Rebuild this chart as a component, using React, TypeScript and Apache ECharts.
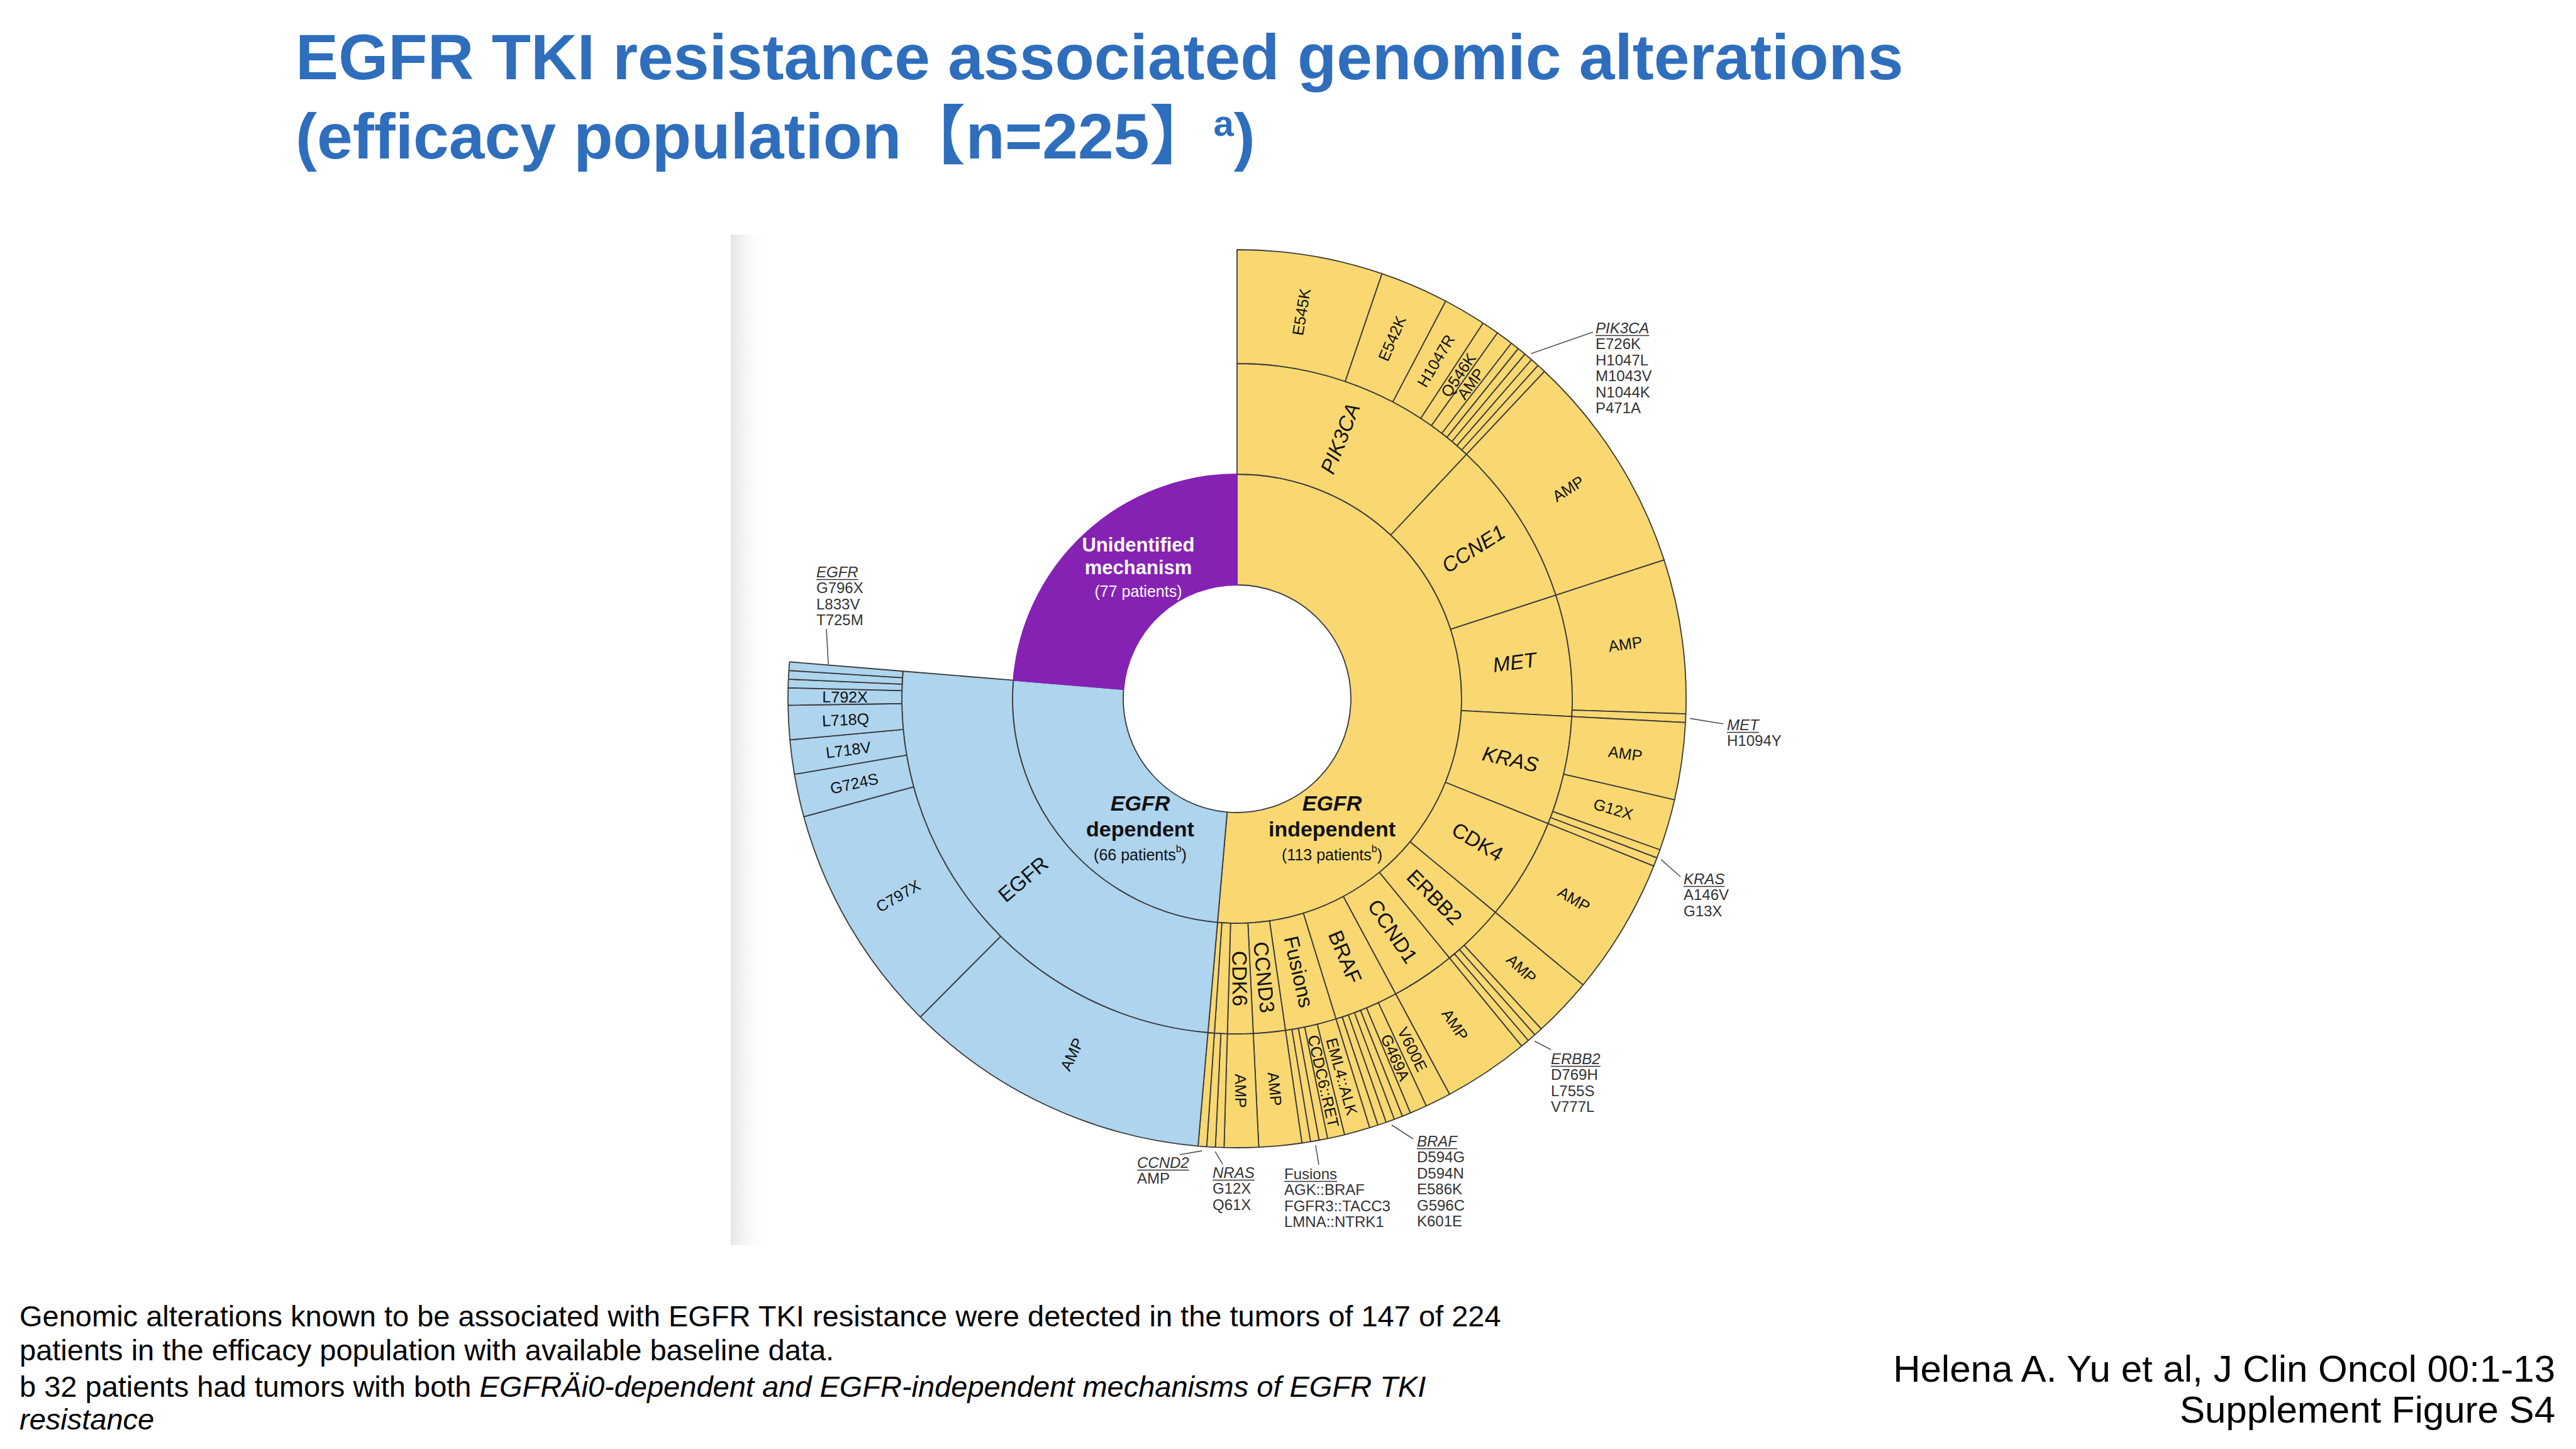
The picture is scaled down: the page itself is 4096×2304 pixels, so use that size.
import React, { useEffect, useRef } from "react";
import * as echarts from "echarts";

const W = 4096;
const H = 2304;
const FONT = '"Liberation Sans", Arial, Helvetica, "Noto Sans CJK SC", sans-serif';

// ---------------- data ----------------
const groupNames = ["EGFR independent", "EGFR dependent", "Unidentified mechanism"];
const unidentifiedCount = 77;

// EGFR-dependent (one gene)
const egfrGene = "EGFR";
const egfrAlterations = ["AMP", "C797X", "G724S", "L718V", "L718Q", "L792X", "G796X", "L833V", "T725M"];
const egfrCounts = [36, 27, 5, 4, 4, 2, 1, 1, 1];

// EGFR-independent genes
const independentGenes = ["PIK3CA", "CCNE1", "MET", "KRAS", "CDK4", "ERBB2", "CCND1", "BRAF", "Fusions", "CCND3", "CDK6", "NRAS", "CCND2"];
const pik3caAlterations = ["E545K", "E542K", "H1047R", "Q546K", "AMP", "E726K", "H1047L", "M1043V", "N1044K", "P471A"];
const pik3caCounts = [17, 8, 5, 2, 2, 1, 1, 1, 1, 1];
const ccne1Alterations = ["AMP"];
const ccne1Counts = [26];
const metAlterations = ["AMP", "H1094Y"];
const metCounts = [18, 1];
const krasAlterations = ["AMP", "G12X", "A146V", "G13X"];
const krasCounts = [9, 6, 1, 1];
const cdk4Alterations = ["AMP"];
const cdk4Counts = [16];
const erbb2Alterations = ["AMP", "D769H", "L755S", "V777L"];
const erbb2Counts = [7, 1, 1, 1];
const ccnd1Alterations = ["AMP"];
const ccnd1Counts = [10];
const brafAlterations = ["V600E", "G469A", "D594G", "D594N", "E586K", "G596C", "K601E"];
const brafCounts = [3, 2, 1, 1, 1, 1, 1];
const fusionAlterations = ["EML4::ALK", "CCDC6::RET", "AGK::BRAF", "FGFR3::TACC3", "LMNA::NTRK1"];
const fusionCounts = [3, 2, 1, 1, 1];
const ccnd3Alterations = ["AMP"];
const ccnd3Counts = [5];
const cdk6Alterations = ["AMP"];
const cdk6Counts = [4];
const nrasAlterations = ["G12X", "Q61X"];
const nrasCounts = [1, 1];
const ccnd2Alterations = ["AMP"];
const ccnd2Counts = [1];

const independentAlterations = [pik3caAlterations, ccne1Alterations, metAlterations, krasAlterations, cdk4Alterations, erbb2Alterations, ccnd1Alterations, brafAlterations, fusionAlterations, ccnd3Alterations, cdk6Alterations, nrasAlterations, ccnd2Alterations];
const independentCounts = [pik3caCounts, ccne1Counts, metCounts, krasCounts, cdk4Counts, erbb2Counts, ccnd1Counts, brafCounts, fusionCounts, ccnd3Counts, cdk6Counts, nrasCounts, ccnd2Counts];
const italicGenes = ["PIK3CA", "CCNE1", "MET", "KRAS"];

const titleLine1 = "EGFR TKI resistance associated genomic alterations";
const titleLine2 = "(efficacy population【n=225】{sup|a})";
const footLines = [
  "Genomic alterations known to be associated with EGFR TKI resistance were detected in the tumors of 147 of 224",
  "patients in the efficacy population with available baseline data.",
  "b 32 patients had tumors with both {i|EGFRÄi0-dependent and EGFR-independent mechanisms of EGFR TKI}",
  "{i|resistance}",
];
const citeLines = ["Helena A. Yu et al, J Clin Oncol 00:1-13", "Supplement Figure S4"];

// ---------------- layout / style ----------------
const CX = 1967;
const CY = 1111;
const RADII = [181, 357, 533, 714];
const YELLOW = "#F9D872";
const BLUE = "#AED4EE";
const PURPLE = "#8522B4";
const EDGE = "#3a3a3a";
const TITLE_BLUE = "#2E6EBC";

const calloutLayout: Record<string, { x: number; y: number; end: [number, number] }> = {
  PIK3CA: { x: 2537, y: 521, end: [2533, 528] },
  MET: { x: 2746, y: 1152, end: [2740, 1151] },
  KRAS: { x: 2677, y: 1397, end: [2672, 1394] },
  ERBB2: { x: 2466, y: 1683, end: [2466, 1669] },
  BRAF: { x: 2253, y: 1814, end: [2247, 1811] },
  Fusions: { x: 2042, y: 1866, end: [2097, 1852] },
  NRAS: { x: 1928, y: 1864, end: [1944, 1851] },
  CCND2: { x: 1808, y: 1848, end: [1876, 1836] },
  EGFR: { x: 1298, y: 909, end: [1314, 1000] },
};

const sum = (a: number[]) => a.reduce((s, v) => s + v, 0);

function measure(text: string, font: string) {
  const ctx = document.createElement("canvas").getContext("2d")!;
  ctx.font = font;
  return ctx.measureText(text).width;
}

function leafNodes(names: string[], counts: number[], color: string) {
  return names.map((name, i) => ({
    name,
    value: counts[i],
    itemStyle: { color },
    label: { show: counts[i] >= 2 },
  }));
}

function buildOption() {
  const indepTotal = sum(independentCounts.map(sum));
  const depTotal = sum(egfrCounts);
  const total = indepTotal + depTotal + unidentifiedCount;
  const unit = 360 / total;
  const polar = (deg: number, r: number): [number, number] => [
    CX + r * Math.sin((deg * Math.PI) / 180),
    CY - r * Math.cos((deg * Math.PI) / 180),
  ];

  const indepChildren = independentGenes.map((g, gi) => {
    const counts = independentCounts[gi];
    const t = sum(counts);
    return {
      name: g,
      value: t,
      itemStyle: { color: YELLOW },
      label: { show: t >= 3, fontStyle: italicGenes.includes(g) ? "italic" : "normal" },
      children: leafNodes(independentAlterations[gi], counts, YELLOW),
    };
  });

  const data = [
    { name: groupNames[0], value: indepTotal, itemStyle: { color: YELLOW }, children: indepChildren },
    {
      name: groupNames[1],
      value: depTotal,
      itemStyle: { color: BLUE },
      children: [
        { name: egfrGene, value: depTotal, itemStyle: { color: BLUE }, children: leafNodes(egfrAlterations, egfrCounts, BLUE) },
      ],
    },
    { name: groupNames[2], value: unidentifiedCount, itemStyle: { color: PURPLE, borderColor: PURPLE } },
  ];

  const graphics: any[] = [];
  const Z = 100;

  // faint left shadow band of the pasted figure
  graphics.push({
    type: "rect",
    silent: true,
    z: -10,
    shape: { x: 1162, y: 373, width: 62, height: 1607 },
    style: {
      fill: new echarts.graphic.LinearGradient(0, 0, 1, 0, [
        { offset: 0, color: "#e6e6e6" },
        { offset: 1, color: "rgba(255,255,255,0)" },
      ]),
    },
  });

  // title
  const tBase = { fill: TITLE_BLUE, fontFamily: FONT, fontWeight: "bold", fontSize: 102 };
  [titleLine1, titleLine2].forEach((txt, i) => {
    graphics.push({
      type: "text",
      silent: true,
      z: Z,
      x: 470,
      y: i === 0 ? 91 : 217,
      style: {
        text: txt,
        ...tBase,
        align: "left",
        verticalAlign: "middle",
        rich: {
          sup: { ...tBase, fontSize: 58, lineHeight: 58, verticalAlign: "top" },
        },
      },
    });
  });

  // footnotes
  [2092, 2146, 2204, 2256].forEach((y, i) => {
    graphics.push({
      type: "text",
      silent: true,
      z: Z,
      x: 31,
      y,
      style: {
        text: footLines[i],
        fill: "#000",
        fontFamily: FONT,
        fontSize: 47,
        align: "left",
        verticalAlign: "middle",
        rich: { i: { fontStyle: "italic", fontSize: 47, fontFamily: FONT, fill: "#000" } },
      },
    });
  });

  // citation
  [2176, 2241].forEach((y, i) => {
    graphics.push({
      type: "text",
      silent: true,
      z: Z,
      x: 4063,
      y,
      style: { text: citeLines[i], fill: "#000", fontFamily: FONT, fontSize: 60, align: "right", verticalAlign: "middle" },
    });
  });

  // inner ring labels
  const innerLabels = [
    { x: 1810, ys: [866, 902, 937], color: "#fff", lines: ["{b|Unidentified}", "{b|mechanism}", "{n|(77 patients)}"] },
    { x: 1813, ys: [1277, 1318, 1356], color: "#111", lines: ["{bi|EGFR}", "{b|dependent}", "{n|(66 patients}{s|b}{n|)}"] },
    { x: 2118, ys: [1277, 1318, 1356], color: "#111", lines: ["{bi|EGFR}", "{b|independent}", "{n|(113 patients}{s|b}{n|)}"] },
  ];
  innerLabels.forEach((lab, li) => {
    const bSize = li === 0 ? 31 : 34;
    lab.lines.forEach((t, k) => {
      graphics.push({
        type: "text",
        silent: true,
        z: Z,
        x: lab.x,
        y: lab.ys[k],
        style: {
          text: t,
          align: "center",
          verticalAlign: "middle",
          fill: lab.color,
          fontFamily: FONT,
          rich: {
            b: { fontWeight: "bold", fontSize: bSize, fill: lab.color, fontFamily: FONT, lineHeight: 36 },
            bi: { fontWeight: "bold", fontStyle: "italic", fontSize: bSize, fill: lab.color, fontFamily: FONT, lineHeight: 36 },
            n: { fontSize: 25, fill: lab.color, fontFamily: FONT, lineHeight: 30, verticalAlign: "bottom" },
            s: { fontSize: 16, fill: lab.color, fontFamily: FONT, lineHeight: 30, verticalAlign: "top" },
          },
        },
      });
    });
  });

  // callouts for single-patient alterations
  const calloutSources: { gene: string; start: number; names: string[]; counts: number[] }[] = [];
  let cum = 0;
  independentGenes.forEach((g, gi) => {
    calloutSources.push({ gene: g, start: cum, names: independentAlterations[gi], counts: independentCounts[gi] });
    cum += sum(independentCounts[gi]);
  });
  calloutSources.push({ gene: egfrGene, start: indepTotal, names: egfrAlterations, counts: egfrCounts });

  const hdrSize = 24;
  calloutSources.forEach((src) => {
    const lay = calloutLayout[src.gene];
    if (!lay) return;
    const singles = src.names.filter((_, i) => src.counts[i] === 1);
    const t = sum(src.counts);
    const singleUnits = src.counts.filter((c) => c === 1).length;
    let p0: [number, number];
    if (src.gene === egfrGene) {
      p0 = polar((src.start + t) * unit, 652);
    } else {
      const mid = src.start + t - singleUnits / 2;
      p0 = polar(mid * unit, RADII[3] + 7);
    }
    graphics.push({
      type: "line",
      silent: true,
      z: Z,
      shape: { x1: p0[0], y1: p0[1], x2: lay.end[0], y2: lay.end[1] },
      style: { stroke: "#555", lineWidth: 1.6 },
    });
    const italic = src.gene !== "Fusions";
    const hdrFont = `${italic ? "italic " : ""}${hdrSize}px ${FONT}`;
    const wHdr = measure(src.gene, hdrFont);
    graphics.push({
      type: "text",
      silent: true,
      z: Z,
      x: lay.x,
      y: lay.y,
      style: {
        text: src.gene,
        fill: "#333",
        fontFamily: FONT,
        fontSize: hdrSize,
        fontStyle: italic ? "italic" : "normal",
        align: "left",
        verticalAlign: "middle",
      },
    });
    graphics.push({
      type: "line",
      silent: true,
      z: Z,
      shape: { x1: lay.x, y1: lay.y + 12.5, x2: lay.x + wHdr, y2: lay.y + 12.5 },
      style: { stroke: "#333", lineWidth: 1.6 },
    });
    singles.forEach((nm, k) => {
      graphics.push({
        type: "text",
        silent: true,
        z: Z,
        x: lay.x,
        y: lay.y + 25.5 * (k + 1),
        style: { text: nm, fill: "#333", fontFamily: FONT, fontSize: hdrSize, align: "left", verticalAlign: "middle" },
      });
    });
  });

  return {
    animation: false,
    backgroundColor: "#ffffff",
    series: [
      {
        type: "sunburst",
        center: [CX, CY],
        startAngle: 90,
        clockwise: true,
        sort: null,
        nodeClick: false,
        emphasis: { disabled: true },
        itemStyle: { borderColor: EDGE, borderWidth: 1.8 },
        label: { color: "#111", fontFamily: FONT, rotate: "radial" },
        levels: [
          {},
          { r0: RADII[0], r: RADII[1], label: { show: false } },
          { r0: RADII[1], r: RADII[2], label: { fontSize: 33, rotate: "radial" } },
          { r0: RADII[2], r: RADII[3], label: { fontSize: 25, rotate: "radial" } },
        ],
        data,
      },
    ],
    graphic: graphics,
  };
}

export default function App() {
  const ref = useRef<HTMLDivElement>(null);
  useEffect(() => {
    const chart = echarts.init(ref.current!, null, { renderer: "svg", width: W, height: H });
    chart.setOption(buildOption() as any);
    return () => chart.dispose();
  }, []);
  return (
    <div
      ref={ref}
      style={{ position: "absolute", left: 0, top: 0, width: W, height: H, background: "#fff" }}
    />
  );
}
